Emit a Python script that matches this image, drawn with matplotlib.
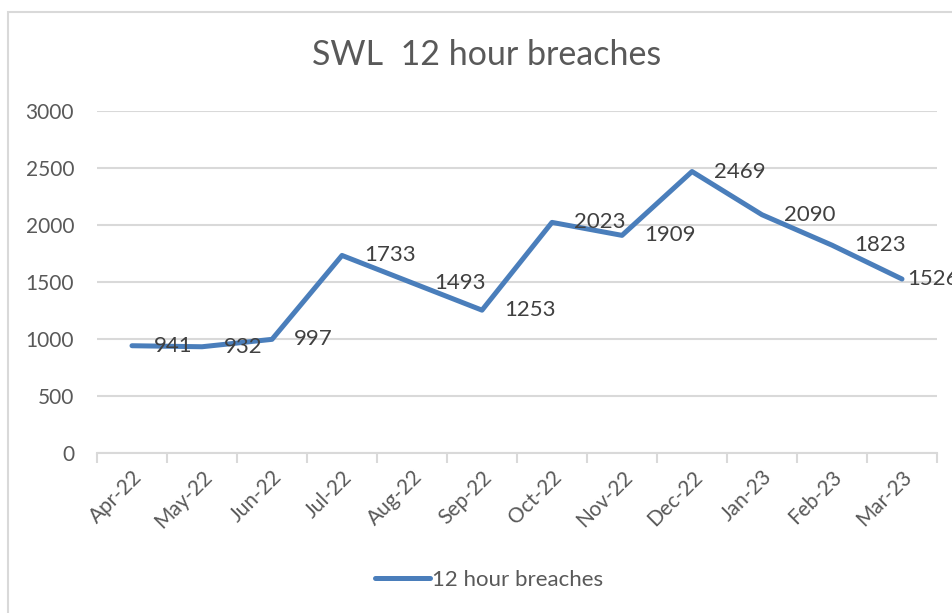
import matplotlib.pyplot as plt
from matplotlib.patches import Rectangle

months = ["Apr-22", "May-22", "Jun-22", "Jul-22", "Aug-22", "Sep-22",
          "Oct-22", "Nov-22", "Dec-22", "Jan-23", "Feb-23", "Mar-23"]
breaches = [941, 932, 997, 1733, 1493, 1253, 2023, 1909, 2469, 2090, 1823, 1526]

plt.rcParams["font.family"] = ["Lato", "DejaVu Sans"]
text_col = "#595959"
line_col = "#4A7EBB"
grid_col = "#D9D9D9"

fig = plt.figure(figsize=(9.53, 6.13), dpi=100)
ax = fig.add_axes([97 / 953, 1 - 453 / 613, 840 / 953, 342 / 613])

x = list(range(len(months)))
ax.plot(x, breaches, color=line_col, lw=3.6, solid_capstyle="round",
        solid_joinstyle="round", label="12 hour breaches", clip_on=False)

# Excel pulls the last label in a bit so it stays near the edge
for xi, v in zip(x, breaches):
    off = 4 if xi == len(months) - 1 else 16
    ax.annotate(str(v), (xi, v), xytext=(off, 0), textcoords="offset points",
                ha="left", va="center", fontsize=16, color="#404040",
                annotation_clip=False)

ax.set_xlim(-0.5, len(months) - 0.5)
ax.set_ylim(0, 3000)
ax.set_yticks(range(0, 3001, 500))
ax.yaxis.grid(True, color=grid_col, lw=1.5)
ax.set_axisbelow(True)
ax.tick_params(axis="y", length=0, labelsize=15, labelcolor=text_col, pad=16.5)

ax.set_xticks(x)
ax.set_xticklabels(months, rotation=45, ha="right", rotation_mode="anchor")
ax.set_xticks([i - 0.5 for i in range(len(months) + 1)], minor=True)
ax.tick_params(axis="x", which="major", length=0, labelsize=15,
               labelcolor=text_col, pad=10)
ax.tick_params(axis="x", which="minor", length=7, width=1.5, color=grid_col)

for s in ["left", "right", "top"]:
    ax.spines[s].set_visible(False)
ax.spines["bottom"].set_color(grid_col)
ax.spines["bottom"].set_linewidth(1.5)

fig.text(487 / 953, 1 - 55 / 613, "SWL  12 hour breaches", ha="center",
         va="center", fontsize=24.5, color=text_col)

fig.legend(loc="center", bbox_to_anchor=(489 / 953, 1 - 580 / 613),
           frameon=False, fontsize=16, labelcolor=text_col,
           handlelength=2.5, handletextpad=0.1)

fig.patches.append(Rectangle((8 / 953, -0.1), 1.2, 1.1 - 12 / 613,
                             transform=fig.transFigure, fill=False,
                             edgecolor=grid_col, lw=1.5))

fig.savefig("out.png", dpi=100, facecolor="white")
